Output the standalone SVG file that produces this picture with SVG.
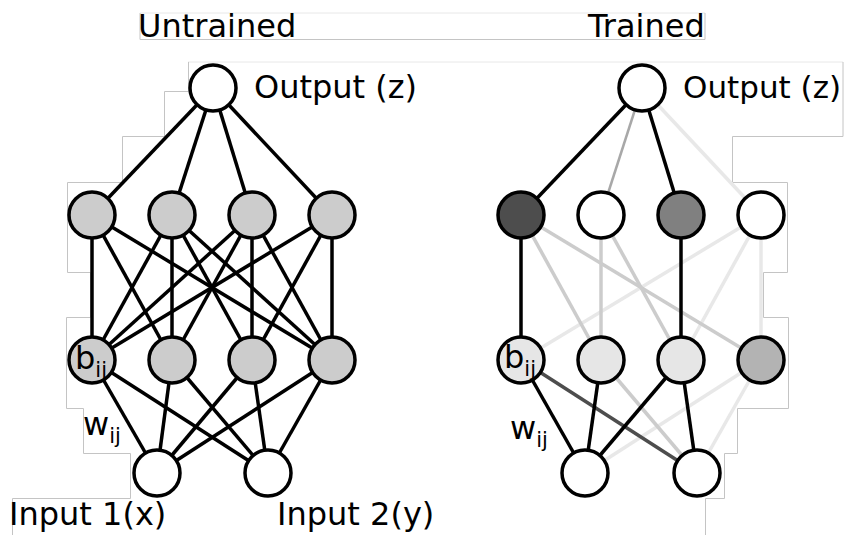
<svg xmlns="http://www.w3.org/2000/svg" width="844" height="535" viewBox="0 0 844 535">
  <style>
    text { font-family: "DejaVu Sans", "Liberation Sans", sans-serif; fill: #000; }
    .big { font-size: 32px; }
    .lbl { font-size: 32px; }
    .sub { font-size: 21px; }
    .frame { fill: none; stroke: #c4c4c4; stroke-width: 1; }
    .frame-top { fill: none; stroke: #e8e8e8; stroke-width: 1; }
    .node { stroke: #000; stroke-width: 3.5; }
    .edges line { stroke-width: 3.5; stroke-linecap: butt; }
    .k { stroke: #000; }
    .g1 { stroke: #cccccc; }
    .g2 { stroke: #e8e8e8; }
    .gd { stroke: #4d4d4d; }
    .gm { stroke: #a8a8a8; }
  </style>

  <rect width="844" height="535" fill="#fff"/>

  <!-- pale outline frames behind the figure -->
  <g id="frames">
    <polyline class="frame-top" points="140,13 705,13"/>
    <polyline class="frame" points="140,13 140,39.5 594,39.5"/>
    <polyline class="frame" points="594,39.5 705,39.5 705,13"/>
    <polyline class="frame-top" points="188,62 843,62"/>
    <polyline class="frame" points="843,62 843,136.5 732.5,136.5 732.5,182.5 787.5,182.5 787.5,272.5 763.5,272.5 763.5,317.5 788.5,317.5 788.5,408.5 737.5,408.5 737.5,453.5 724.5,453.5 724.5,498.5 705.5,498.5 705.5,535"/>
    <polyline class="frame" points="188.5,62 188.5,91.5 164.5,91.5 164.5,136.5 122.5,136.5 122.5,182.5 67.5,182.5 67.5,272.5 90.5,272.5 90.5,317.5 66.5,317.5 66.5,408.5 83.5,408.5 83.5,453.5 130.5,453.5 130.5,498.5 12.5,498.5 12.5,535"/>
  </g>

  <!-- titles -->
  <text class="big" x="138" y="37">Untrained</text>
  <text class="big" x="588" y="37">Trained</text>

  <!-- connectors -->
  <g id="edges" class="edges">
    <!-- untrained: output to first hidden layer -->
    <line class="k" x1="213" y1="88" x2="92" y2="215"/>
    <line class="k" x1="213" y1="88" x2="172" y2="215"/>
    <line class="k" x1="213" y1="88" x2="252" y2="215"/>
    <line class="k" x1="213" y1="88" x2="332" y2="215"/>
    <!-- untrained: hidden to hidden -->
    <line class="k" x1="92" y1="215" x2="92" y2="360"/>
    <line class="k" x1="92" y1="215" x2="172" y2="360"/>
    <line class="k" x1="92" y1="215" x2="332" y2="360"/>
    <line class="k" x1="172" y1="215" x2="92" y2="360"/>
    <line class="k" x1="172" y1="215" x2="172" y2="360"/>
    <line class="k" x1="172" y1="215" x2="252" y2="360"/>
    <line class="k" x1="172" y1="215" x2="332" y2="360"/>
    <line class="k" x1="252" y1="215" x2="92" y2="360"/>
    <line class="k" x1="252" y1="215" x2="172" y2="360"/>
    <line class="k" x1="252" y1="215" x2="252" y2="360"/>
    <line class="k" x1="252" y1="215" x2="332" y2="360"/>
    <line class="k" x1="332" y1="215" x2="92" y2="360"/>
    <line class="k" x1="332" y1="215" x2="252" y2="360"/>
    <line class="k" x1="332" y1="215" x2="332" y2="360"/>
    <!-- untrained: hidden to inputs -->
    <line class="k" x1="92" y1="360" x2="157" y2="473"/>
    <line class="k" x1="92" y1="360" x2="268" y2="473"/>
    <line class="k" x1="172" y1="360" x2="157" y2="473"/>
    <line class="k" x1="172" y1="360" x2="268" y2="473"/>
    <line class="k" x1="252" y1="360" x2="157" y2="473"/>
    <line class="k" x1="252" y1="360" x2="268" y2="473"/>
    <line class="k" x1="332" y1="360" x2="157" y2="473"/>
    <line class="k" x1="332" y1="360" x2="268" y2="473"/>

    <!-- trained: output to first hidden layer -->
    <line class="g2" x1="642" y1="88" x2="761" y2="215"/>
    <line class="gm" x1="642" y1="88" x2="601" y2="215" style="stroke-width:2.5"/>
    <line class="k" x1="642" y1="88" x2="521" y2="215"/>
    <line class="k" x1="642" y1="88" x2="681" y2="215"/>
    <!-- trained: hidden to hidden -->
    <line class="g2" x1="761" y1="215" x2="521" y2="360"/>
    <line class="g2" x1="761" y1="215" x2="681" y2="360"/>
    <line class="g2" x1="761" y1="215" x2="761" y2="360"/>
    <line class="g1" x1="521" y1="215" x2="601" y2="360"/>
    <line class="g1" x1="521" y1="215" x2="761" y2="360"/>
    <line class="g1" x1="601" y1="215" x2="601" y2="360"/>
    <line class="g1" x1="601" y1="215" x2="681" y2="360"/>
    <line class="k" x1="521" y1="215" x2="521" y2="360"/>
    <line class="k" x1="681" y1="215" x2="681" y2="360"/>
    <!-- trained: hidden to inputs -->
    <line class="g2" x1="761" y1="360" x2="585" y2="473"/>
    <line class="g2" x1="761" y1="360" x2="697" y2="473"/>
    <line class="g1" x1="601" y1="360" x2="697" y2="473"/>
    <line class="gd" x1="521" y1="360" x2="697" y2="473"/>
    <line class="k" x1="521" y1="360" x2="585" y2="473"/>
    <line class="k" x1="601" y1="360" x2="585" y2="473"/>
    <line class="k" x1="681" y1="360" x2="585" y2="473"/>
    <line class="k" x1="681" y1="360" x2="697" y2="473"/>
  </g>

  <!-- untrained network nodes -->
  <g id="u-out"><circle class="node" cx="213" cy="88" r="23" fill="#fff"/></g>
  <g id="u-h1a"><circle class="node" cx="92" cy="215" r="23" fill="#ccc"/></g>
  <g id="u-h1b"><circle class="node" cx="172" cy="215" r="23" fill="#ccc"/></g>
  <g id="u-h1c"><circle class="node" cx="252" cy="215" r="23" fill="#ccc"/></g>
  <g id="u-h1d"><circle class="node" cx="332" cy="215" r="23" fill="#ccc"/></g>
  <g id="u-h2a"><circle class="node" cx="92" cy="360" r="23" fill="#ccc"/></g>
  <g id="u-h2b"><circle class="node" cx="172" cy="360" r="23" fill="#ccc"/></g>
  <g id="u-h2c"><circle class="node" cx="252" cy="360" r="23" fill="#ccc"/></g>
  <g id="u-h2d"><circle class="node" cx="332" cy="360" r="23" fill="#ccc"/></g>
  <g id="u-in1"><circle class="node" cx="157" cy="473" r="23" fill="#fff"/></g>
  <g id="u-in2"><circle class="node" cx="268" cy="473" r="23" fill="#fff"/></g>

  <!-- trained network nodes -->
  <g id="t-out"><circle class="node" cx="642" cy="88" r="23" fill="#fff"/></g>
  <g id="t-h1a"><circle class="node" cx="521" cy="215" r="23" fill="#4d4d4d"/></g>
  <g id="t-h1b"><circle class="node" cx="601" cy="215" r="23" fill="#fff"/></g>
  <g id="t-h1c"><circle class="node" cx="681" cy="215" r="23" fill="#808080"/></g>
  <g id="t-h1d"><circle class="node" cx="761" cy="215" r="23" fill="#fff"/></g>
  <g id="t-h2a"><circle class="node" cx="521" cy="360" r="23" fill="#e6e6e6"/></g>
  <g id="t-h2b"><circle class="node" cx="601" cy="360" r="23" fill="#e6e6e6"/></g>
  <g id="t-h2c"><circle class="node" cx="681" cy="360" r="23" fill="#e6e6e6"/></g>
  <g id="t-h2d"><circle class="node" cx="761" cy="360" r="23" fill="#b3b3b3"/></g>
  <g id="t-in1"><circle class="node" cx="585" cy="473" r="23" fill="#fff"/></g>
  <g id="t-in2"><circle class="node" cx="697" cy="473" r="23" fill="#fff"/></g>

  <!-- labels -->
  <g id="labels">
    <text class="big" x="254" y="98">Output (z)</text>
    <text class="big" x="683" y="98" style="font-size:31px">Output (z)</text>
    <text class="lbl" x="75" y="369">b<tspan class="sub" dy="8">ij</tspan></text>
    <text class="lbl" x="504" y="368">b<tspan class="sub" dy="8">ij</tspan></text>
    <text class="lbl" x="83" y="435">w<tspan class="sub" dy="8">ij</tspan></text>
    <text class="lbl" x="510" y="439">w<tspan class="sub" dy="8">ij</tspan></text>
    <text class="big" x="9" y="525">Input 1(x)</text>
    <text class="big" x="277" y="525">Input 2(y)</text>
  </g>
</svg>
